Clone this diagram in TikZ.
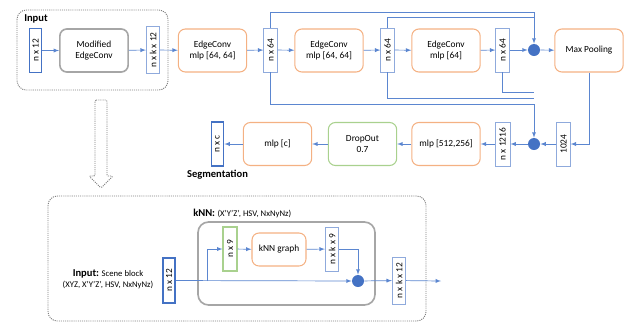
\documentclass[tikz,border=0pt]{standalone}
\usepackage{fontspec}
\setmainfont{Carlito}
\usetikzlibrary{%
  arrows,%
  shapes,%
  positioning,%
  calc%
}
\definecolor{vecblue}{HTML}{4472C4}
\definecolor{thinblue}{HTML}{8FAADC}
\definecolor{lineblue}{HTML}{5B86D0}
\definecolor{convorange}{HTML}{F4B183}
\definecolor{dropgreen}{HTML}{A9D18E}
\definecolor{boxgray}{HTML}{A6A6A6}
\definecolor{dotgray}{HTML}{808080}

\begin{document}
\begin{tikzpicture}
  [
  x=0.03cm, y=-0.03cm,
  font=\fontsize{8}{9.4}\selectfont, line width=0.6pt, >=latex,
  vecnode/.style={rectangle, draw=vecblue, line width=1.5pt, rotate=90, inner sep=0pt, minimum width=1.32cm, minimum height=0.36cm},
  thinnode/.style={rectangle, draw=thinblue, line width=0.8pt, rotate=90, inner sep=0pt, minimum width=1.32cm, minimum height=0.4cm},
  greennode/.style={rectangle, draw=dropgreen, line width=1.5pt, rotate=90, inner sep=0pt, minimum width=1.32cm, minimum height=0.4cm},
  convnode/.style={rectangle, rounded corners=6pt, draw=convorange, line width=0.9pt, align=center, minimum width=2.05cm, minimum height=1.29cm},
  dropnode/.style={convnode, draw=dropgreen},
  graynode/.style={convnode, draw=boxgray, line width=1.4pt},
  sumnode/.style={circle, fill=vecblue, inner sep=0pt, minimum size=0.36cm},
  dotbox/.style={draw=dotgray, line width=0.8pt, dash pattern=on 0.9pt off 0.9pt, rounded corners=8pt},
  link/.style={draw=lineblue, ->},
  wire/.style={draw=lineblue},
  ]

  \useasboundingbox (0,0) rectangle (628,323);

  % input block
  \draw[dotbox] (17,10) rectangle (168,90);
  \node[anchor=west, font=\fontsize{9}{10}\selectfont\bfseries] (inlabel) at (20,19) {Input};
  \node[vecnode] (in12) at (35.5,50.5) {n x 12};
  \node[graynode] (modec) at (94,50.5) {Modified\\EdgeConv};
  \node[thinnode, minimum width=1.41cm] (nk12) at (153,50) {n x k x 12};

  % edge convolutions
  \node[convnode] (ec1) at (212.5,50.5) {EdgeConv\\mlp [64, 64]};
  \node[thinnode] (f1) at (270.5,50) {n x 64};
  \node[convnode] (ec2) at (329,50.5) {EdgeConv\\mlp [64, 64]};
  \node[thinnode] (f2) at (387.5,50) {n x 64};
  \node[convnode] (ec3) at (446,50.5) {EdgeConv\\mlp [64]};
  \node[thinnode] (f3) at (502.5,50) {n x 64};
  \node[sumnode] (sum1) at (534,50) {};
  \node[convnode] (maxp) at (589,50.5) {Max Pooling};

  % segmentation head
  \node[thinnode] (g1024) at (563.5,144) {1024};
  \node[sumnode] (sum2) at (534,144) {};
  \node[thinnode, minimum height=0.45cm] (f1216) at (502.5,144) {n x 1216};
  \node[convnode] (mlp512) at (446,144) {mlp [512,256]};
  \node[dropnode] (drop) at (362.5,144) {DropOut\\0.7};
  \node[convnode] (mlpc) at (277.5,144) {mlp [c]};
  \node[vecnode] (nc) at (217.5,144) {n x c};
  \node[font=\fontsize{9}{10}\selectfont\bfseries] (seg) at (217.5,175) {Segmentation};

  \coordinate (t1) at (534,12);
  \coordinate (t2) at (534,17);
  \coordinate (b1) at (534,104);
  \coordinate (b2) at (534,98);
  \coordinate (b3) at (534,92);

  \draw[link] (in12) -- (modec);
  \draw[link] (modec) -- (nk12);
  \draw[link] (nk12) -- (ec1);
  \draw[link] (ec1) -- (f1);
  \draw[link] (f1) -- (ec2);
  \draw[link] (ec2) -- (f2);
  \draw[link] (f2) -- (ec3);
  \draw[link] (ec3) -- (f3);
  \draw[link] (f3) -- (sum1);
  \draw[link] (sum1) -- (maxp);
  \draw[wire] (f1.east) |- (t1);
  \draw[wire] (f2.east) |- (t2);
  \draw[link] (t1) -- (sum1.north);
  \draw[wire] (f1.west) |- (b1);
  \draw[wire] (f2.west) |- (b2);
  \draw[wire] (f3.west) |- (b3);
  \draw[link] (b1) -- (sum2.north);
  \draw[link] (maxp.south) |- (g1024.south);
  \draw[link] (g1024) -- (sum2);
  \draw[link] (sum2) -- (f1216);
  \draw[link] (f1216) -- (mlp512);
  \draw[link] (mlp512) -- (drop);
  \draw[link] (drop) -- (mlpc);
  \draw[link] (mlpc) -- (nc);

  % hollow down arrow
  \draw[dotbox, rounded corners=1pt] (95,100) -- (107,100) -- (107,176) -- (113,176)
    -- (101,188) -- (89,176) -- (95,176) -- cycle;

  % modified edgeconv detail
  \draw[dotbox] (48,196) rectangle (426,321);
  \node[anchor=west] (knnlabel) at (189,213) {\fontsize{9}{10}\selectfont\textbf{kNN:} \fontsize{7.4}{8}\selectfont(X'Y'Z', HSV, NxNyNz)};
  \draw[draw=boxgray, line width=1.4pt, rounded corners=9pt] (198,222) rectangle (375,305);
  \node[align=center, font=\fontsize{7.4}{9.2}\selectfont] (scene) at (108,279) {{\fontsize{9}{10}\selectfont\textbf{Input:}} Scene block\\(XYZ, X'Y'Z', HSV, NxNyNz)};
  \node[vecnode, minimum width=1.35cm] (in12b) at (169,280.5) {n x 12};
  \node[greennode] (n9) at (230,249) {n x 9};
  \node[convnode, minimum width=1.62cm, minimum height=0.99cm] (knng) at (279,249.5) {kNN graph};
  \node[thinnode] (nk9) at (332,249) {n x k x 9};
  \node[sumnode] (sum3) at (358,281) {};
  \node[thinnode, minimum width=1.41cm] (nk12b) at (399,280.5) {n x k x 12};
  \coordinate (br) at (207,281);
  \coordinate (out) at (441,281);

  \draw[link] (in12b) -- (sum3);
  \draw[link] (br) |- (n9);
  \draw[link] (n9) -- (knng);
  \draw[link] (knng) -- (nk9);
  \draw[link] (nk9.south) -| (sum3.north);
  \draw[link] (sum3) -- (nk12b);
  \draw[link] (nk12b) -- (out);

\end{tikzpicture}
\end{document}
